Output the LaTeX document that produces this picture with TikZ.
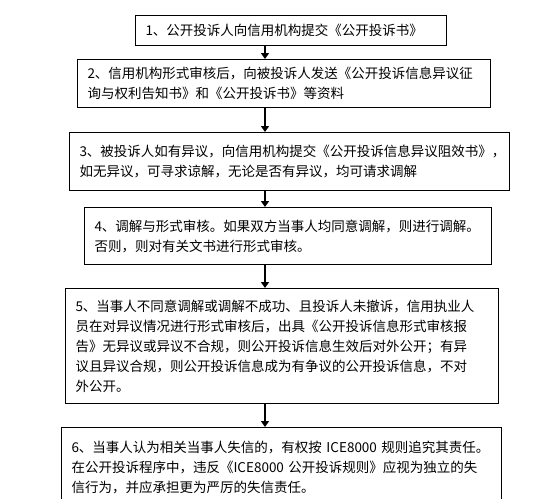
\documentclass[tikz,border=0pt]{standalone}
\usepackage{fontspec}
\newfontfamily\cjk{Noto Sans CJK SC}
\usetikzlibrary{arrows.meta}
\begin{document}
\begin{tikzpicture}[x=1pt,y=-1pt,
    box/.style={draw,line width=1pt,anchor=north west,align=left,
      inner xsep=10pt,inner ysep=2pt,font=\cjk\fontsize{13.5}{20}\selectfont},
    arr/.style={line width=2pt,-{Triangle[width=8pt,length=6pt]}}]
  \useasboundingbox (0,0) rectangle (554,498);
  \node[box,minimum width=311pt,minimum height=30pt,text width=291pt] (1) at (135,15)
    {1、公开投诉人向信用机构提交《公开投诉书》};
  \node[box,minimum width=413pt,minimum height=48pt,text width=393pt] (2) at (77,59)
    {2、信用机构形式审核后，向被投诉人发送《公开投诉信息异议征\\询与权利告知书》和《公开投诉书》等资料};
  \node[box,minimum width=440pt,minimum height=58pt,text width=420pt] (3) at (69,132)
    {3、被投诉人如有异议，向信用机构提交《公开投诉信息异议阻效书》，\\如无异议，可寻求谅解，无论是否有异议，均可请求调解};
  \node[box,minimum width=407pt,minimum height=57pt,text width=387pt] (4) at (84,207)
    {4、调解与形式审核。如果双方当事人均同意调解，则进行调解。\\否则，则对有关文书进行形式审核。};
  \node[box,minimum width=433pt,minimum height=115pt,text width=413pt] (5) at (65,288)
    {5、当事人不同意调解或调解不成功、且投诉人未撤诉，信用执业人\\员在对异议情况进行形式审核后，出具《公开投诉信息形式审核报\\告》无异议或异议不合规，则公开投诉信息生效后对外公开；有异\\议且异议合规，则公开投诉信息成为有争议的公开投诉信息，不对\\外公开。};
  \node[box,minimum width=440pt,minimum height=80pt,text width=420pt] (6) at (61,427)
    {6、当事人认为相关当事人失信的，有权按 ICE8000 规则追究其责任。\\在公开投诉程序中，违反《ICE8000 公开投诉规则》应视为独立的失\\信行为，并应承担更为严厉的失信责任。};
  \coordinate (x) at (265,0);
  \begin{scope}[arr]
    \draw (1.south -| x) to (2.north -| x);
    \draw (2.south -| x) to (3.north -| x);
    \draw (3.south -| x) to (4.north -| x);
    \draw (4.south -| x) to (5.north -| x);
    \draw (5.south -| x) to (6.north -| x);
  \end{scope}
\end{tikzpicture}
\end{document}
